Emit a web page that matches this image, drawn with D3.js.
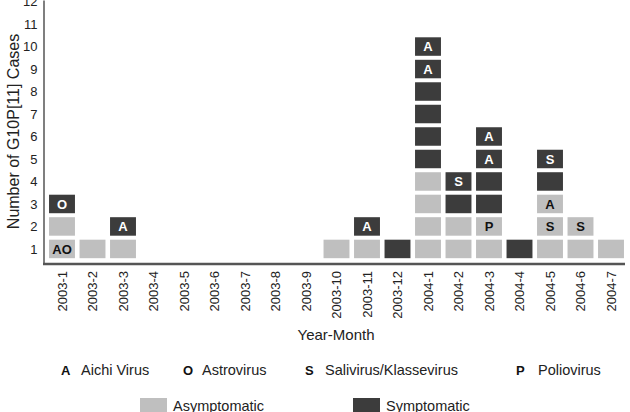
<!DOCTYPE html>
<html>
<head>
<meta charset="utf-8">
<script src="https://cdn.jsdelivr.net/npm/d3@7"></script>
<style>
  html, body { margin: 0; padding: 0; background: #fff; }
  svg { display: block; font-family: "Liberation Sans", Arial, sans-serif; }
</style>
</head>
<body>
<svg id="chart" width="630" height="412"></svg>
<script>
// ---- data ----
const months = ["2003-1","2003-2","2003-3","2003-4","2003-5","2003-6","2003-7","2003-8","2003-9","2003-10","2003-11","2003-12","2004-1","2004-2","2004-3","2004-4","2004-5","2004-6","2004-7"];
// status of each case, bottom to top: a = asymptomatic, s = symptomatic
const statusStacks = ["aas","a","as","","","","","","","a","as","s","aaaassssss","aass","aassss","s","aaass","aa","a"];
// co-infection labels of each case, bottom to top
const labelStacks = [
  ["AO","","O"], [""], ["","A"], [], [], [], [], [], [],
  [""], ["","A"], [""],
  ["","","","","","","","","A","A"],
  ["","","","S"],
  ["","P","","","A","A"],
  [""],
  ["","S","A","","S"],
  ["","S"],
  [""]
];
const yTicks = [1,2,3,4,5,6,7,8,9,10,11,12];
const virusCodes = ["A","O","S","P"];
const virusNames = ["Aichi Virus","Astrovirus","Salivirus/Klassevirus","Poliovirus"];
const statusKeys = ["a","s"];
const statusNames = ["Asymptomatic","Symptomatic"];

// ---- styles ----
const colors = { a: "#bfbfbf", s: "#3c3c3c" };
const textColors = { a: "#111", s: "#fff" };
const axisColor = "#555";

const svg = d3.select("#chart");

const x = d3.scaleBand().domain(months).range([46.75, 626.25]).paddingInner(0.15).paddingOuter(0.075);
const y = d3.scaleLinear().domain([0.33, 12.07]).range([264, 0]);
const cellH = 18.5;

// cells
const cells = [];
months.forEach((m, i) => {
  statusStacks[i].split("").forEach((st, j) => {
    cells.push({ month: m, k: j + 1, status: st, label: labelStacks[i][j] || "" });
  });
});

const g = svg.append("g");
g.selectAll("rect.cell").data(cells).join("rect")
  .attr("class", "cell")
  .attr("x", d => x(d.month))
  .attr("y", d => y(d.k) - cellH / 2)
  .attr("width", x.bandwidth())
  .attr("height", cellH)
  .attr("fill", d => colors[d.status]);

g.selectAll("text.cl").data(cells.filter(d => d.label)).join("text")
  .attr("class", "cl")
  .attr("x", d => x(d.month) + x.bandwidth() / 2)
  .attr("y", d => y(d.k))
  .attr("dy", "0.36em")
  .attr("text-anchor", "middle")
  .attr("font-weight", "bold")
  .attr("font-size", "13px")
  .attr("fill", d => textColors[d.status])
  .text(d => d.label);

// y axis
const yAxis = svg.append("g").attr("transform", "translate(43.5,0)")
  .call(d3.axisLeft(y).tickValues(yTicks).tickSize(0).tickPadding(6).tickFormat(d3.format("d")));
yAxis.select(".domain").attr("stroke", axisColor).attr("stroke-width", 1.5);
yAxis.selectAll("text").attr("font-size", "13px").attr("fill", "#222").attr("font-family", "Liberation Sans, Arial, sans-serif");

// x axis
const xAxis = svg.append("g").attr("transform", "translate(0,264)")
  .call(d3.axisBottom(x).tickSize(0));
xAxis.select(".domain").remove();
xAxis.append("line").attr("x1", 43).attr("x2", 625).attr("y1", 0).attr("y2", 0)
  .attr("stroke", axisColor).attr("stroke-width", 2.5);
xAxis.selectAll(".tick text")
  .attr("transform", "rotate(-90)")
  .attr("x", -7).attr("y", 0).attr("dy", "0.36em")
  .attr("text-anchor", "end")
  .attr("font-size", "13px").attr("fill", "#222")
  .attr("font-family", "Liberation Sans, Arial, sans-serif");

// axis titles
svg.append("text")
  .attr("transform", "translate(19,131.5) rotate(-90)")
  .attr("text-anchor", "middle").attr("font-size", "16px").attr("fill", "#222")
  .text("Number of G10P[11] Cases");
svg.append("text")
  .attr("x", 336).attr("y", 340)
  .attr("text-anchor", "middle").attr("font-size", "15px").attr("fill", "#222")
  .text("Year-Month");

// legend row 1: virus codes
const codeX = [61, 183, 305, 516];
const nameX = [81, 202, 325, 538];
const leg1 = svg.append("g");
virusCodes.forEach((c, i) => {
  leg1.append("text").attr("x", codeX[i]).attr("y", 375)
    .attr("font-weight", "bold").attr("font-size", "13px").attr("fill", "#111").text(c);
  leg1.append("text").attr("x", nameX[i]).attr("y", 375)
    .attr("font-size", "14.5px").attr("fill", "#222").text(virusNames[i]);
});

// legend row 2: status
const swX = [140, 353];
const leg2 = svg.append("g");
statusKeys.forEach((k, i) => {
  leg2.append("rect").attr("x", swX[i]).attr("y", 398).attr("width", 27).attr("height", 16)
    .attr("fill", colors[k]);
  leg2.append("text").attr("x", swX[i] + 33).attr("y", 410.5)
    .attr("font-size", "14.5px").attr("fill", "#222").text(statusNames[i]);
});
</script>
</body>
</html>
